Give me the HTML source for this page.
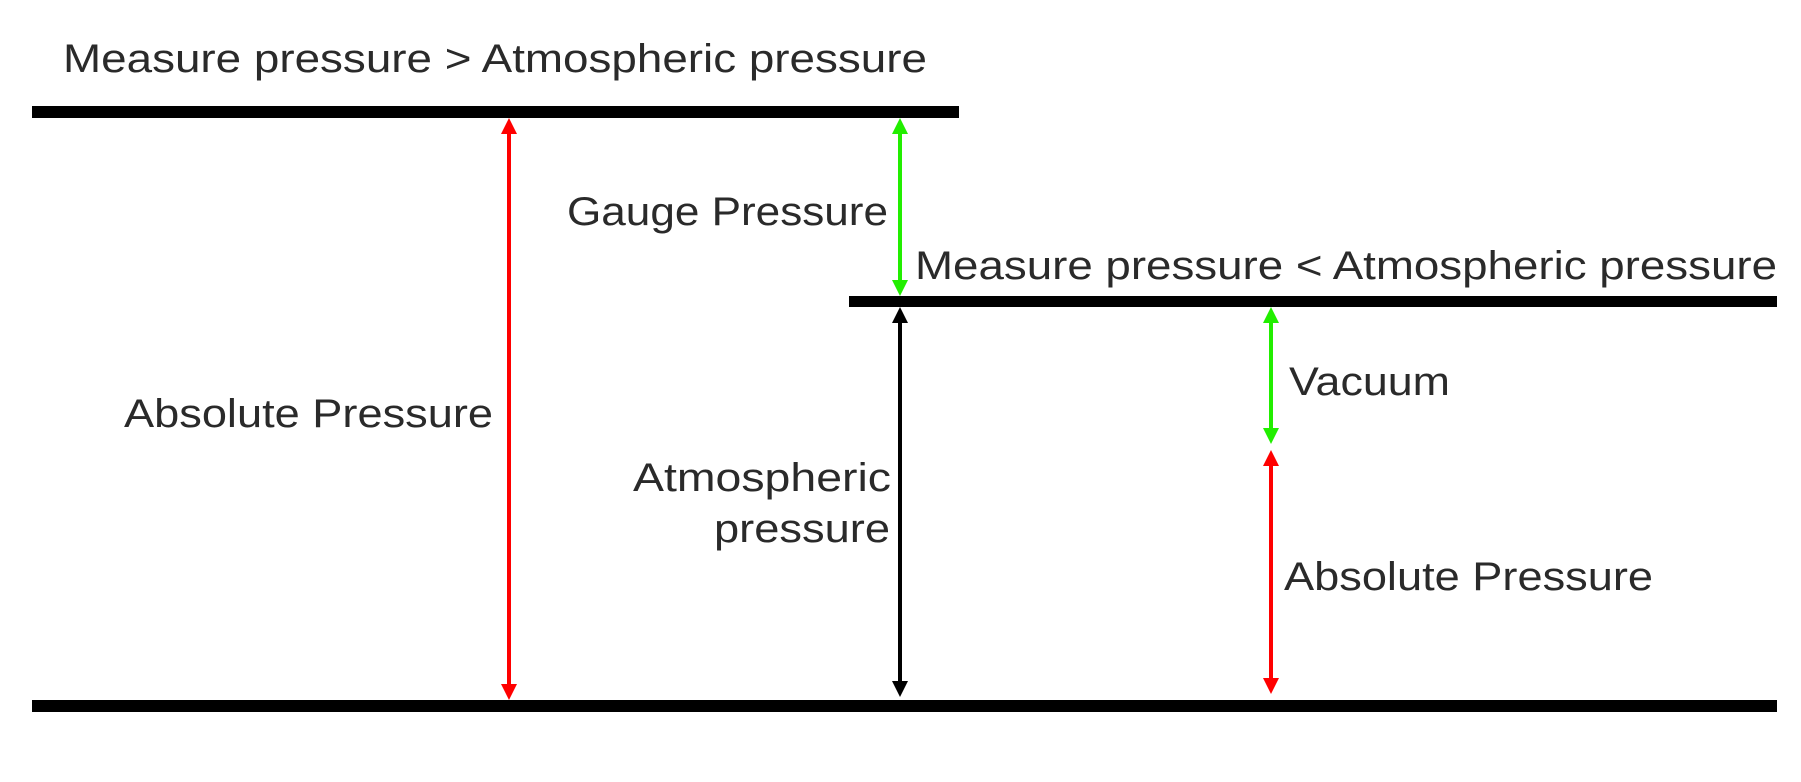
<!DOCTYPE html>
<html><head><meta charset="utf-8"><style>
html,body{margin:0;padding:0;background:#fff;}
svg{display:block;}
text{font-family:"Liberation Sans",sans-serif;font-size:40px;fill:#2a2a2a;}
</style></head><body>
<svg width="1801" height="782" viewBox="0 0 1801 782" xmlns="http://www.w3.org/2000/svg">
<rect x="32" y="106" width="927" height="12" fill="#000"/>
<rect x="849" y="296" width="928" height="11" fill="#000"/>
<rect x="32" y="700" width="1745" height="12" fill="#000"/>
<g stroke-width="4">
<line x1="509" y1="130" x2="509" y2="688" stroke="#ff0000"/>
<line x1="900" y1="130" x2="900" y2="284" stroke="#22ee00"/>
<line x1="900" y1="320" x2="900" y2="688" stroke="#000"/>
<line x1="1271" y1="320" x2="1271" y2="432" stroke="#22ee00"/>
<line x1="1271" y1="462" x2="1271" y2="682" stroke="#ff0000"/>
</g>
<g>
<polygon points="509,118 501,134 517,134" fill="#ff0000"/>
<polygon points="509,700 501,684 517,684" fill="#ff0000"/>
<polygon points="900,118 892,134 908,134" fill="#22ee00"/>
<polygon points="900,296 892,280 908,280" fill="#22ee00"/>
<polygon points="900,307 892,323 908,323" fill="#000"/>
<polygon points="900,697 892,681 908,681" fill="#000"/>
<polygon points="1271,307 1263,323 1279,323" fill="#22ee00"/>
<polygon points="1271,444 1263,428 1279,428" fill="#22ee00"/>
<polygon points="1271,450 1263,466 1279,466" fill="#ff0000"/>
<polygon points="1271,694 1263,678 1279,678" fill="#ff0000"/>
</g>
<text x="63" y="72" textLength="864" lengthAdjust="spacingAndGlyphs">Measure pressure &gt; Atmospheric pressure</text>
<text x="567" y="225" textLength="321" lengthAdjust="spacingAndGlyphs">Gauge Pressure</text>
<text x="915" y="279" textLength="862" lengthAdjust="spacingAndGlyphs">Measure pressure &lt; Atmospheric pressure</text>
<text x="124" y="427" textLength="369" lengthAdjust="spacingAndGlyphs">Absolute Pressure</text>
<text x="1289" y="395" textLength="161" lengthAdjust="spacingAndGlyphs">Vacuum</text>
<text x="633" y="491" textLength="258" lengthAdjust="spacingAndGlyphs">Atmospheric</text>
<text x="714" y="542" textLength="176" lengthAdjust="spacingAndGlyphs">pressure</text>
<text x="1284" y="590" textLength="369" lengthAdjust="spacingAndGlyphs">Absolute Pressure</text>
</svg>
</body></html>
